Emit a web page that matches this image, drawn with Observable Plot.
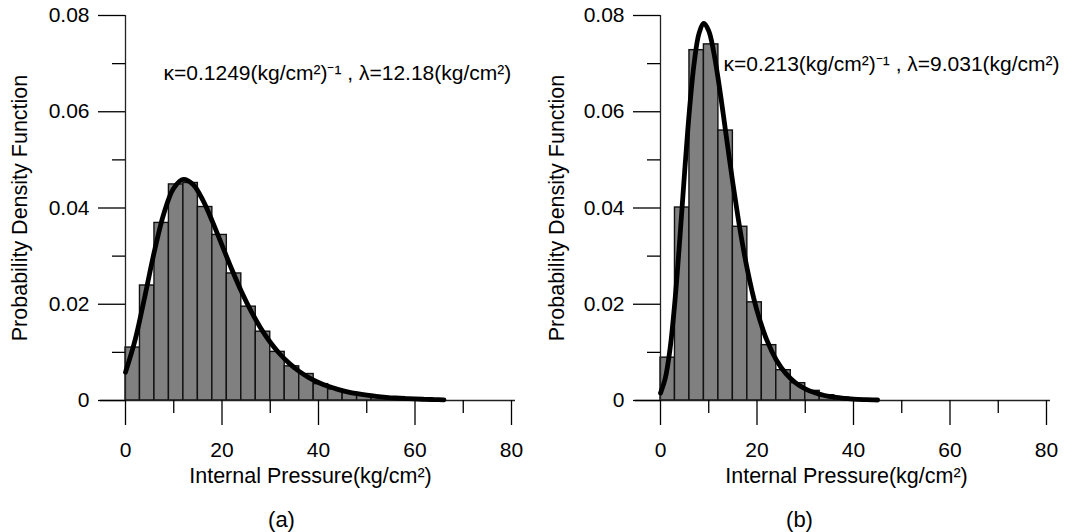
<!DOCTYPE html>
<html>
<head>
<meta charset="utf-8">
<script src="https://cdn.jsdelivr.net/npm/d3@7"></script>
<script src="https://cdn.jsdelivr.net/npm/@observablehq/plot@0.6"></script>
<style>
  body { margin: 0; background: #fff; }
  #wrap { display: flex; width: 1082px; height: 532px; }
  #wrap > div { width: 541px; height: 532px; }
  svg { overflow: visible; }
</style>
</head>
<body>
<div id="wrap"><div id="pa"></div><div id="pb"></div></div>
<script>
// ---- data ----
const binWidth = 3;
const binStartA = [0,3,6,9,12,15,18,21,24,27,30,33,36,39,42,45,48,51,54,57,60,63];
const densA = [0.0110,0.0239,0.0369,0.0449,0.0452,0.0402,0.0344,0.0264,0.0195,0.0143,0.0101,0.0071,0.0055,0.0034,0.0023,0.0016,0.0011,0.0007,0.0005,0.0004,0.0002,0.0001];
const curveXA = [0,2,4,6,8,10,12,14,16,18,20,22,24,26,28,30,32,34,36,38,40,42,44,46,48,50,52,54,56,58,60,62,64,66];
const curveYA = [0.00587,0.01259,0.02157,0.03105,0.03903,0.04412,0.04594,0.04486,0.04168,0.03723,0.03227,0.02733,0.02271,0.01861,0.01508,0.01211,0.00966,0.00766,0.00606,0.00477,0.00375,0.00294,0.00230,0.00180,0.00141,0.00110,0.00086,0.00067,0.00052,0.00041,0.00032,0.00025,0.00019,0.00015];

const binStartB = [0,3,6,9,12,15,18,21,24,27,30,33,36,39,42];
const densB = [0.0089,0.0401,0.0728,0.0740,0.0561,0.0361,0.0204,0.0115,0.0063,0.0036,0.0020,0.0011,0.0006,0.0003,0.0001];
const curveXB = [0,1,2,3,4,5,6,7,8,9,10,11,12,13,14,15,16,17,18,19,20,22,24,26,28,30,32,34,36,38,40,42,44,45];
const curveYB = [0.00155,0.00467,0.01089,0.02076,0.03355,0.04746,0.06034,0.07029,0.07634,0.07836,0.07681,0.07255,0.06652,0.05953,0.05225,0.04514,0.03849,0.03248,0.02720,0.02260,0.01869,0.01263,0.00843,0.00559,0.00368,0.00242,0.00159,0.00104,0.00068,0.00044,0.00029,0.00019,0.00012,0.00010];

const xMajor = [0,20,40,60,80];
const xMinor = [10,30,50,70];
const yMajor = [0,0.02,0.04,0.06,0.08];
const yMinor = [0.01,0.03,0.05,0.07];

const yTitle = "Probability Density Function";
const xTitle = "Internal Pressure(kg/cm²)";
const annoA = "κ=0.1249(kg/cm²)⁻¹ , λ=12.18(kg/cm²)";
const annoB = "κ=0.213(kg/cm²)⁻¹ , λ=9.031(kg/cm²)";
const captionA = "(a)";
const captionB = "(b)";

function panel(o) {
  const bars = o.starts.map((s, i) => ({x1: s, x2: s + binWidth, y: o.dens[i]}));
  const curve = o.cx.map((x, i) => ({x, y: o.cy[i]}));
  const fmt = d => d === 0 ? "0" : d.toFixed(2);
  return Plot.plot({
    width: 541,
    height: 532,
    marginLeft: o.ml,
    marginRight: o.mr,
    marginTop: 15,
    marginBottom: 132,
    style: {fontFamily: "'Liberation Sans', Arial, sans-serif", fontSize: "21px", color: "#000", background: "transparent"},
    x: {domain: [0, 80]},
    y: {domain: [0, 0.08]},
    marks: [
      Plot.rectY(bars, {x1: "x1", x2: "x2", y: "y", fill: "#808080", stroke: "#111", strokeWidth: 1.4}),
      Plot.ruleY([0], {stroke: "#222", strokeWidth: 1.3, insetLeft: -25, insetRight: -4}),
      Plot.ruleX([0], {y1: 0, y2: 0.08, stroke: "#222", strokeWidth: 1.3}),
      Plot.axisY({ticks: yMajor, tickSize: 27, tickPadding: 9, tickFormat: fmt, label: null, strokeWidth: 1.3, fontSize: 21}),
      Plot.axisY({ticks: yMinor, tickSize: 13, tickFormat: () => "", label: null, strokeWidth: 1.3}),
      Plot.axisX({ticks: xMajor, tickSize: 25, tickPadding: 17, label: null, strokeWidth: 1.3, fontSize: 21}),
      Plot.axisX({ticks: xMinor, tickSize: 13, tickFormat: () => "", label: null, strokeWidth: 1.3}),
      Plot.line(curve, {x: "x", y: "y", stroke: "#000", strokeWidth: 4.8, curve: "catmull-rom"}),
      Plot.text([o.anno], {frameAnchor: "top-left", dx: o.annoDx, dy: o.annoDy, textAnchor: "start", lineAnchor: "middle", fontSize: 21}),
      Plot.text([yTitle], {frameAnchor: "left", rotate: -90, dx: o.yTitleDx, textAnchor: "middle", lineAnchor: "middle", fontSize: 21.5}),
      Plot.text([xTitle], {frameAnchor: "bottom", dx: o.xTitleDx, dy: 76, textAnchor: "middle", lineAnchor: "middle", fontSize: 21.5}),
      Plot.text([o.caption], {frameAnchor: "bottom", dx: o.capDx, dy: 119, textAnchor: "middle", lineAnchor: "middle", fontSize: 22})
    ]
  });
}

document.getElementById("pa").append(panel({
  starts: binStartA, dens: densA, cx: curveXA, cy: curveYA,
  ml: 125, mr: 30, anno: annoA, annoDx: 38, annoDy: 58,
  yTitleDx: -105, xTitleDx: -8, caption: captionA, capDx: -37
}));
document.getElementById("pb").append(panel({
  starts: binStartB, dens: densB, cx: curveXB, cy: curveYB,
  ml: 119, mr: 36, anno: annoB, annoDx: 63, annoDy: 49,
  yTitleDx: -103, xTitleDx: -7, caption: captionB, capDx: -54
}));
</script>
</body>
</html>
